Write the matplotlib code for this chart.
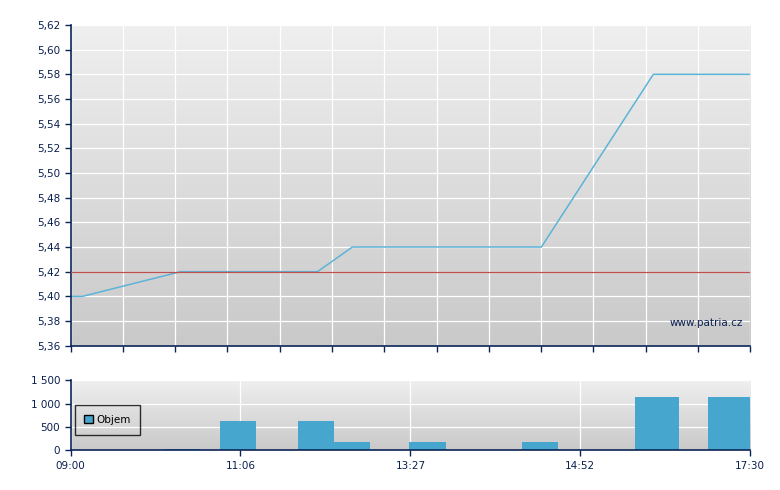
import numpy as np
import matplotlib
matplotlib.use('Agg')
import matplotlib.pyplot as plt
from matplotlib.patches import Patch

# session axis runs 0..680 (ticks are evenly spaced, labels are times)
price_x = [0, 12, 110, 247, 282, 471, 583, 680]
price_y = [5.40, 5.40, 5.42, 5.42, 5.44, 5.44, 5.58, 5.58]
prev_close = 5.42

bar_start = [94, 150, 228, 264, 339, 452, 565, 638]
bar_end = [130, 186, 264, 300, 376, 488, 609, 680]
volume = [30, 630, 630, 180, 180, 180, 1140, 1140]

vol_tick_pos = [0, 170, 340, 510, 680]
vol_tick_lab = ['09:00', '11:06', '13:27', '14:52', '17:30']
price_ticks = np.round(np.arange(5.36, 5.621, 0.02), 2)
vol_ticks = [0, 500, 1000, 1500]
vol_tick_txt = ['0', '500', '1 000', '1 500']

navy = '#0b2458'
txt = '#0a1f4f'
line_col = '#5cb3d8'
bar_col = '#46a6ce'

fig = plt.figure(figsize=(7.8, 4.9), dpi=100)
ax = fig.add_axes([70.5 / 780, 1 - 345.7 / 490, 679.8 / 780, 320.7 / 490])
ax2 = fig.add_axes([70.5 / 780, 1 - 450.3 / 490, 679.8 / 780, 70 / 490])

grad = np.linspace(0, 1, 256).reshape(-1, 1)
cmap = matplotlib.colors.LinearSegmentedColormap.from_list('bg', ['#efefef', '#c9c9c9'])


def style(a):
    a.imshow(grad, cmap=cmap, aspect='auto', extent=[0, 1, 0, 1],
             transform=a.transAxes, zorder=0)
    for s in ['top', 'right']:
        a.spines[s].set_visible(False)
    for s in ['left', 'bottom']:
        a.spines[s].set_color(navy)
        a.spines[s].set_linewidth(1.2)
    a.tick_params(colors=navy, labelcolor=txt, labelsize=7.5, length=4, width=1)
    a.grid(True, color='white', linewidth=0.9, zorder=1)
    a.set_axisbelow(True)


style(ax)
ax.set_xlim(0, 680)
ax.set_ylim(5.36, 5.62)
ax.set_xticks(np.linspace(0, 680, 14))
ax.set_xticklabels([])
ax.set_yticks(price_ticks)
ax.set_yticklabels([f'{v:.2f}'.replace('.', ',') for v in price_ticks])
ax.plot(price_x, price_y, color=line_col, linewidth=1.1, zorder=2)
ax.axhline(prev_close, color='#c0504d', linewidth=0.9, zorder=3)
ax.text(0.989, 0.07, 'www.patria.cz', transform=ax.transAxes, ha='right',
        va='center', color=txt, fontsize=7.5, zorder=4)

style(ax2)
ax2.set_xlim(0, 680)
ax2.set_ylim(0, 1500)
widths = [e - s for s, e in zip(bar_start, bar_end)]
ax2.bar(bar_start, volume, width=widths, align='edge', color=bar_col, zorder=2)
ax2.set_xticks(vol_tick_pos)
ax2.set_xticklabels(vol_tick_lab)
ax2.set_yticks(vol_ticks)
ax2.set_yticklabels(vol_tick_txt)
leg = ax2.legend(handles=[Patch(facecolor=bar_col, edgecolor='black', label='Objem')],
                 loc='upper left', bbox_to_anchor=(0.006, 0.65), borderaxespad=0,
                 frameon=True, fancybox=False, fontsize=7.5, handlelength=0.8,
                 handleheight=0.9, borderpad=0.95, handletextpad=0.3,
                 labelcolor='black')
leg.get_frame().set_edgecolor('black')
leg.get_frame().set_facecolor('none')
leg.get_frame().set_linewidth(1)

fig.savefig('out.png', dpi=100)
